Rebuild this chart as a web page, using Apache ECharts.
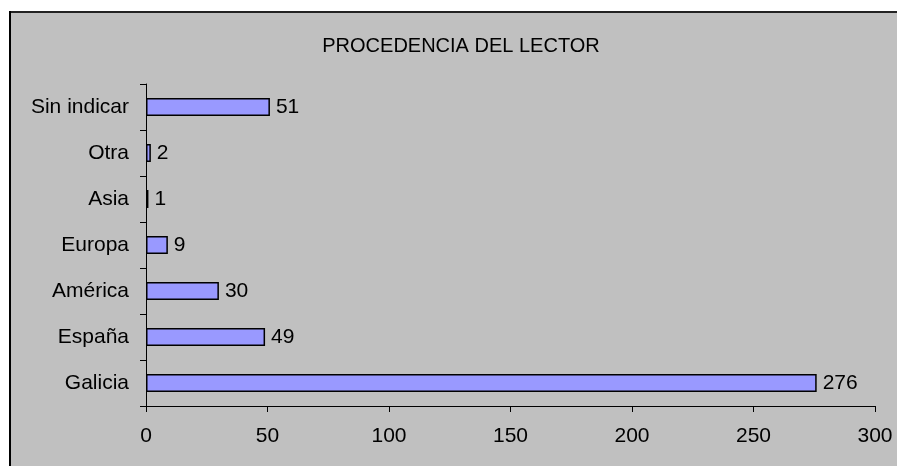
<!DOCTYPE html>
<html>
<head>
<meta charset="utf-8">
<script src="https://cdn.jsdelivr.net/npm/echarts@6/dist/echarts.min.js"></script>
<style>
  html, body { margin: 0; padding: 0; background: #ffffff; overflow: hidden; }
  #chart { position: absolute; left: 0; top: 0; width: 897px; height: 466px; }
</style>
</head>
<body>
<div id="chart"></div>
<script>
const titleText = 'PROCEDENCIA DEL LECTOR';
const categories = ['Galicia', 'España', 'América', 'Europa', 'Asia', 'Otra', 'Sin indicar'];
const values = [276, 49, 30, 9, 1, 2, 51];
const xMin = 0, xMax = 300, xInterval = 50;

const font = '"Liberation Sans", Arial, sans-serif';
const chart = echarts.init(document.getElementById('chart'), null, { renderer: 'canvas' });
chart.setOption({
  backgroundColor: '#ffffff',
  animation: false,
  graphic: [
    { type: 'rect', z: -10, silent: true, shape: { x: 10, y: 12, width: 900, height: 470 }, style: { fill: '#c0c0c0' } },
    { type: 'line', z: -9, silent: true, shape: { x1: 9, y1: 12, x2: 900, y2: 12 }, style: { stroke: '#222', lineWidth: 2 } },
    { type: 'line', z: -9, silent: true, shape: { x1: 10, y1: 11, x2: 10, y2: 470 }, style: { stroke: '#000', lineWidth: 2 } }
  ],
  title: {
    text: titleText,
    left: 456, top: 31, textAlign: 'center',
    textStyle: { fontFamily: font, fontSize: 20, fontWeight: 'normal', color: '#000' }
  },
  grid: { left: 146, right: 22, top: 84, bottom: 60, containLabel: false },
  xAxis: {
    type: 'value', min: xMin, max: xMax, interval: xInterval,
    axisLine: { show: true, lineStyle: { color: '#000', width: 1 } },
    axisTick: { show: true, inside: false, length: 6, lineStyle: { color: '#000' } },
    axisLabel: { fontFamily: font, fontSize: 21, color: '#000', margin: 20 },
    splitLine: { show: false }
  },
  yAxis: {
    type: 'category', data: categories,
    axisLine: { show: true, lineStyle: { color: '#000', width: 1 } },
    axisTick: { show: true, inside: false, length: 6, alignWithLabel: false, lineStyle: { color: '#000' } },
    axisLabel: { fontFamily: font, fontSize: 21, color: '#000', margin: 17 },
    splitLine: { show: false }
  },
  series: [{
    type: 'bar',
    data: values,
    barWidth: 18,
    itemStyle: { color: '#9999ff', borderColor: '#000', borderWidth: 1.5 },
    label: { show: true, position: 'right', distance: 6, fontFamily: font, fontSize: 21, color: '#000' }
  }]
});
</script>
</body>
</html>
